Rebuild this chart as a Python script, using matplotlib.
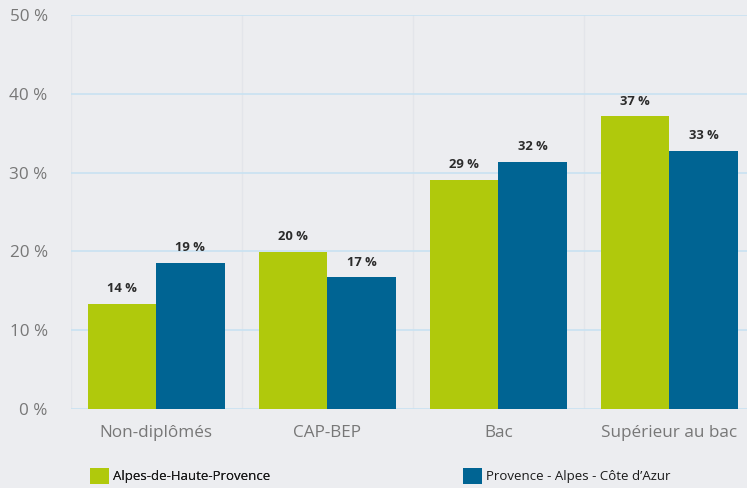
import matplotlib
matplotlib.use("Agg")
import matplotlib.pyplot as plt
import numpy as np

categories = ["Non-diplômés", "CAP-BEP", "Bac", "Supérieur au bac"]
series_names = ["Alpes-de-Haute-Provence", "Provence - Alpes - Côte d’Azur"]
alpes_values = [13.3, 19.9, 29.0, 37.1]
paca_values = [18.5, 16.7, 31.3, 32.7]
alpes_labels = ["14 %", "20 %", "29 %", "37 %"]
paca_labels = ["19 %", "17 %", "32 %", "33 %"]
yticks = [0, 10, 20, 30, 40, 50]
ytick_labels = ["0 %", "10 %", "20 %", "30 %", "40 %", "50 %"]

GREEN = "#b0c90c"
BLUE = "#006493"
BG = "#ecedf0"

plt.rcParams['font.family'] = ['Open Sans', 'DejaVu Sans']

fig = plt.figure(figsize=(7.47, 4.88), dpi=100, facecolor=BG)
ax = fig.add_axes([0.0946, 0.1613, 0.916, 0.8086])
ax.set_facecolor(BG)

x = np.arange(len(categories))
w = 0.4
b1 = ax.bar(x - w / 2, alpes_values, width=w, color=GREEN, zorder=3,
            label=series_names[0])
b2 = ax.bar(x + w / 2, paca_values, width=w, color=BLUE, zorder=3,
            label=series_names[1])

for bars, labs in ((b1, alpes_labels), (b2, paca_labels)):
    for rect, lab in zip(bars, labs):
        ax.annotate(lab, (rect.get_x() + rect.get_width() / 2, rect.get_height()),
                    xytext=(0, 8.6), textcoords="offset points",
                    ha="center", va="baseline", fontsize=9.4, fontweight="bold",
                    color="#2b2b2b", zorder=4)

ax.set_xlim(-0.5, 3.5)
ax.set_ylim(0, 50)
ax.set_yticks(yticks)
ax.set_yticklabels(ytick_labels)
ax.set_xticks(x)
ax.set_xticklabels(categories)
ax.set_xticks(np.arange(-0.5, 3.6, 1.0), minor=True)

ax.grid(axis="y", which="major", color="#c8e2f2", linewidth=1.2, zorder=1)
ax.grid(axis="x", which="minor", color="#e3e5ea", linewidth=1.0, zorder=1)
ax.grid(axis="x", which="major", visible=False)

for s in ax.spines.values():
    s.set_visible(False)
ax.tick_params(axis="both", which="both", length=0)
ax.tick_params(axis="y", pad=16.5, labelsize=12.3, labelcolor="#777777")
ax.tick_params(axis="x", pad=11, labelsize=12.3, labelcolor="#777777")

leg1 = fig.legend(handles=[b1], labels=[series_names[0]], loc="center left",
                  bbox_to_anchor=(90 / 747, 1 - 476 / 488), frameon=False,
                  fontsize=9.5, handlelength=1.44, handleheight=1.44,
                  handletextpad=0.3, borderpad=0, borderaxespad=0)
for t in leg1.get_texts():
    t.set_color("#1a1a1a")
leg2 = fig.legend(handles=[b2], labels=[series_names[1]], loc="center left",
                  bbox_to_anchor=(463 / 747, 1 - 476 / 488), frameon=False,
                  fontsize=9.5, handlelength=1.44, handleheight=1.44,
                  handletextpad=0.3, borderpad=0, borderaxespad=0)
for t in leg2.get_texts():
    t.set_color("#1a1a1a")
fig.add_artist(leg1)

fig.savefig("out.png", dpi=100, facecolor=BG)
